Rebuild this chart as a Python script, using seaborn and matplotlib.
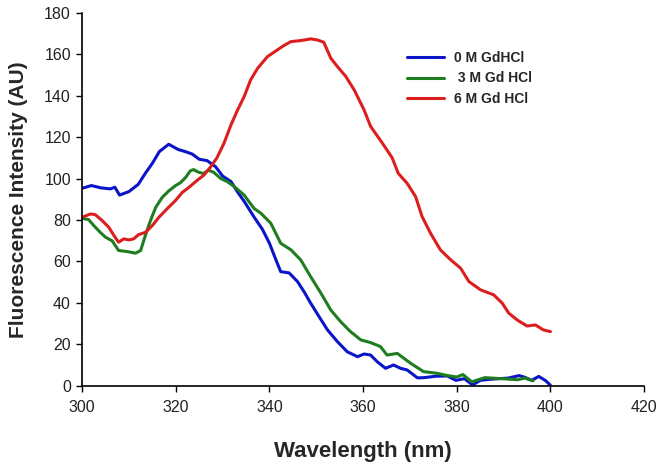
import numpy as np
import pandas as pd
import matplotlib
matplotlib.use("Agg")
import matplotlib.pyplot as plt
import seaborn as sns

# ---- data ----
blue_x = [300, 302, 304, 306, 307, 308, 310, 312, 313.5, 315, 316.5, 318.5, 320.5, 322, 323.5,
          325, 326.7, 328.5, 330, 331.8, 333.2, 334.6, 336.7, 338.5, 340, 341.4, 342.4, 344.2,
          346, 347.4, 348.8, 350.6, 352.4, 354.5, 356.6, 358.8, 360.2, 361.6, 363, 364.8, 366.5,
          368, 369.4, 371.6, 373, 375.5, 378, 379.8, 381.6, 383.4, 385, 387, 389, 391, 393.3,
          394.5, 396, 397.5, 399, 400]
blue_y = [95.3, 96.6, 95.5, 95.0, 95.8, 92.0, 93.7, 97.2, 102.5, 107.3, 113, 116.5, 114, 113, 111.8,
          109.3, 108.6, 105.7, 101.2, 98.5, 93.5, 89, 81.5, 75.5, 68.8, 60.7, 55.1, 54.5,
          50.3, 45.4, 39.9, 33.4, 27, 21.4, 16.5, 14.1, 15.4, 14.9, 11.7, 8.5, 10.1,
          8.5, 7.7, 3.9, 4.0, 4.7, 4.8, 2.7, 3.5, 0.5, 2.7, 3.2, 3.5, 3.8, 5.0,
          4.2, 2.7, 4.6, 2.5, 0.3]

green_x = [300, 301.4, 302.5, 303.9, 305, 306.4, 307.8, 309.6, 311.4, 312.5, 313.5, 314.6, 315.7,
           317.1, 318.5, 319.9, 321, 322.1, 323.1, 323.8, 324.9, 325.9, 327, 328.1, 329.6, 331,
           332.5, 334.6, 336.7, 338.2, 340.3, 342.4, 344.6, 346.7, 348.8, 351, 353.1, 355.2,
           357.3, 359.5, 361.6, 363.7, 365.1, 367.3, 370.1, 372.9, 375.8, 378, 380, 381.3,
           383.2, 386, 389.6, 393, 394.5, 396.3]
green_y = [80.8, 80.2, 77.3, 74, 71.7, 70, 65.3, 64.8, 64, 65.3, 72.5, 79.7, 86,
           90.9, 94, 96.5, 98, 100.5, 103.7, 104.3, 103, 102.4, 104, 103, 100, 98.5,
           96.1, 92, 85.6, 83.2, 78.4, 68.8, 65.6, 60.7, 52.7, 44.7, 36.6, 31,
           26.2, 22.2, 20.9, 19, 14.9, 15.7, 11, 6.9, 6.1, 5.0, 4.3, 5.5,
           2.0, 4.0, 3.5, 3.0, 3.8, 2.5]

red_x = [300, 301.8, 302.8, 304.3, 305.7, 306.8, 307.8, 308.9, 310, 311, 312.1, 313.5, 315,
         316.4, 318.1, 319.9, 321.4, 322.8, 324.6, 326, 327.4, 328.8, 330.3, 331.8, 333.2,
         334.6, 336, 337.5, 339.6, 341.7, 343, 344.6, 346.7, 348.8, 350.2, 351.6, 353.1,
         354.5, 356.3, 358.1, 360.2, 361.6, 364.1, 366.2, 367.5, 369.4, 371.2, 372.6, 374.4,
         376.5, 378.7, 380.8, 382.6, 385.1, 387.9, 389.7, 391.1, 392.9, 395, 396.8, 398.5, 400]
red_y = [81.3, 82.9, 82.6, 79.7, 76.5, 72.5, 69.3, 70.9, 70.4, 70.9, 73, 74, 77.3,
         81.3, 85.3, 89.3, 93.3, 95.7, 99.2, 101.6, 105.5, 110, 117, 125.9, 133,
         139.5, 147.6, 153.2, 158.8, 162, 164, 166, 166.5, 167.3, 166.8, 165.7, 158,
         154, 149.2, 142.7, 133.1, 125.1, 117.1, 110, 102.5, 97.7, 91.3, 81.6, 73.6,
         65.6, 60.8, 56.8, 50.3, 46.3, 43.9, 39.9, 35.1, 31.8, 28.9, 29.4, 27, 26.2]

labels = ["0 M GdHCl", " 3 M Gd HCl", "6 M Gd HCl"]
colors = ["#0A14C8", "#1E7D1E", "#DC1E1E"]

x_ticks = [300, 320, 340, 360, 380, 400, 420]
y_ticks = [0, 20, 40, 60, 80, 100, 120, 140, 160, 180]

sns.set_style("ticks")
plt.rcParams["font.family"] = ["Liberation Sans", "DejaVu Sans"]

fig = plt.figure(figsize=(6.62, 4.65), dpi=100)
ax = fig.add_axes([0.124, 0.170, 0.849, 0.803])

series = [(blue_x, blue_y), (green_x, green_y), (red_x, red_y)]
for (xs, ys), lab, col in zip(series, labels, colors):
    df = pd.DataFrame({"x": xs, "y": ys})
    sns.lineplot(data=df, x="x", y="y", ax=ax, color=col, linewidth=2.2,
                 label=lab, sort=False)

ax.set_xlim(300, 420)
ax.set_ylim(0, 180)
ax.set_xticks(x_ticks)
ax.set_yticks(y_ticks)
ax.tick_params(axis="both", direction="out", length=4, width=1, colors="black",
               labelsize=11.5)
ax.tick_params(axis="x", pad=6)
ax.tick_params(axis="y", pad=4)
for lab in ax.get_xticklabels() + ax.get_yticklabels():
    lab.set_color("#222222")
sns.despine(ax=ax)
for s in ["left", "bottom"]:
    ax.spines[s].set_color("black")
    ax.spines[s].set_linewidth(1.2)

ax.set_xlabel("Wavelength (nm)", fontsize=16, fontweight="bold", labelpad=19)
ax.set_ylabel("Fluorescence Intensity (AU)", fontsize=15, fontweight="bold", labelpad=12)

leg = ax.legend(loc="upper left", bbox_to_anchor=(0.565, 0.915), frameon=False,
                prop={"weight": "bold", "size": 10}, handlelength=2.7,
                handletextpad=0.7, labelspacing=0.45, borderpad=0)

fig.savefig("out.png", dpi=100)
